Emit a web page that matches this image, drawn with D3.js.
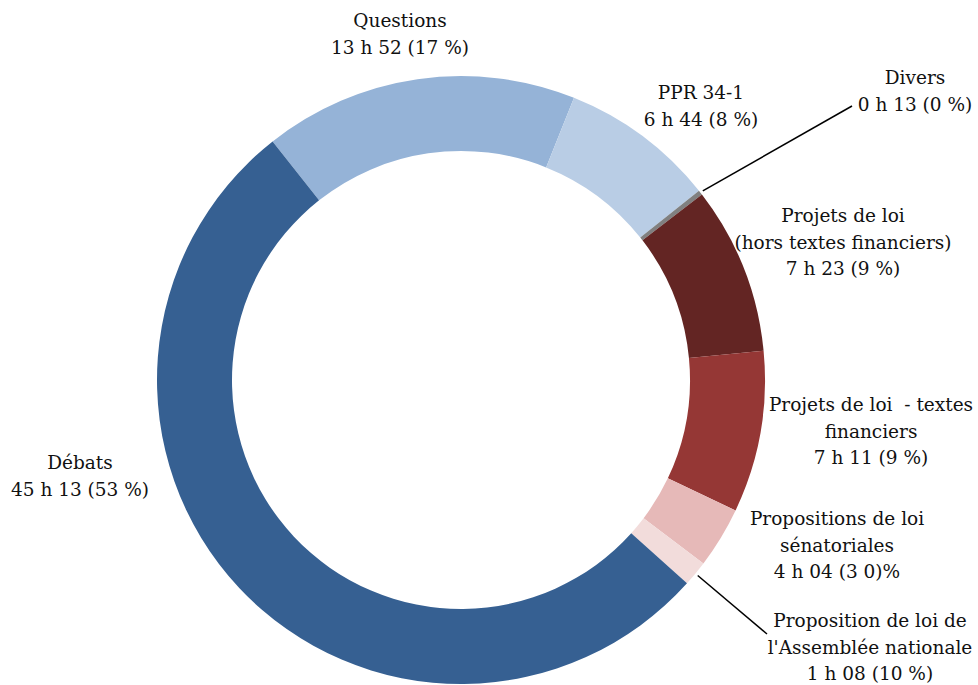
<!DOCTYPE html>
<html>
<head>
<meta charset="utf-8">
<script src="https://cdn.jsdelivr.net/npm/d3@7"></script>
<style>
  body { margin: 0; background: #fff; }
</style>
</head>
<body>
<div id="chart"></div>
<script>
// categories, in drawing order (clockwise from the top-left)
const categories = [
  "Questions", "PPR 34-1", "Divers", "Projets de loi hors textes financiers",
  "Projets de loi - textes financiers", "Propositions de loi sénatoriales",
  "Proposition de loi de l'Assemblée nationale", "Débats"
];
// share of the ring (%)
const shares = [16.7, 8.25, 0.25, 8.9, 8.6, 3.25, 1.35, 52.7];
// label lines as printed in the chart
const labelLines = [
  ["Questions", "13 h 52 (17 %)"],
  ["PPR 34-1", "6 h 44 (8 %)"],
  ["Divers", "0 h 13 (0 %)"],
  ["Projets de loi", "(hors textes financiers)", "7 h 23 (9 %)"],
  ["Projets de loi  - textes", "financiers", "7 h 11 (9 %)"],
  ["Propositions de loi", "sénatoriales", "4 h 04 (3 0)%"],
  ["Proposition de loi de", "l'Assemblée nationale", "1 h 08 (10 %)"],
  ["Débats", "45 h 13 (53 %)"]
];
const colors = ["#95B3D7", "#B9CDE5", "#808080", "#632523", "#953735", "#E6B9B8", "#F2DCDB", "#366092"];

// label layout: centre x, baseline of first line, and leader end for thin slices
const labelPos = [
  { x: 400, y: 27 },
  { x: 701, y: 99 },
  { x: 915, y: 84, leader: [852, 106] },
  { x: 843, y: 222 },
  { x: 871, y: 411 },
  { x: 837, y: 525 },
  { x: 870, y: 627, leader: [767, 634] },
  { x: 80, y: 469 }
];

const width = 978, height = 685;
const cx = 461, cy = 380, outerR = 304, innerR = 229;
const lineH = 26.5;

const svg = d3.select("#chart").append("svg")
  .attr("width", width)
  .attr("height", height);

const g = svg.append("g").attr("transform", `translate(${cx},${cy})`);

const pie = d3.pie()
  .sort(null)
  .value((d) => d.share)
  .startAngle(-38.3 * Math.PI / 180)
  .endAngle((360 - 38.3) * Math.PI / 180);

const data = categories.map((c, i) => ({ name: c, share: shares[i], lines: labelLines[i], color: colors[i], pos: labelPos[i] }));
const arcs = pie(data);

const arc = d3.arc().innerRadius(innerR).outerRadius(outerR);

g.selectAll("path.slice")
  .data(arcs)
  .join("path")
  .attr("class", "slice")
  .attr("d", arc)
  .attr("fill", (d) => d.data.color);

// leader lines for the thin slices
const leaderArc = d3.arc().innerRadius(outerR + 3).outerRadius(outerR + 3);
svg.selectAll("line.leader")
  .data(arcs.filter((d) => d.data.pos.leader))
  .join("line")
  .attr("class", "leader")
  .attr("x1", (d) => cx + leaderArc.centroid(d)[0])
  .attr("y1", (d) => cy + leaderArc.centroid(d)[1])
  .attr("x2", (d) => d.data.pos.leader[0])
  .attr("y2", (d) => d.data.pos.leader[1])
  .attr("stroke", "#000")
  .attr("stroke-width", 1.5);

// labels
const labels = svg.selectAll("text.label")
  .data(arcs)
  .join("text")
  .attr("class", "label")
  .attr("text-anchor", "middle")
  .style("font-family", "'DejaVu Serif', serif")
  .style("font-size", "18.5px")
  .attr("fill", "#111")
  .attr("transform", (d) => `translate(${d.data.pos.x},${d.data.pos.y})`);

labels.selectAll("tspan")
  .data((d) => d.data.lines)
  .join("tspan")
  .attr("x", 0)
  .attr("y", (d, i) => i * lineH)
  .style("white-space", "pre")
  .text((d) => d);
</script>
</body>
</html>
